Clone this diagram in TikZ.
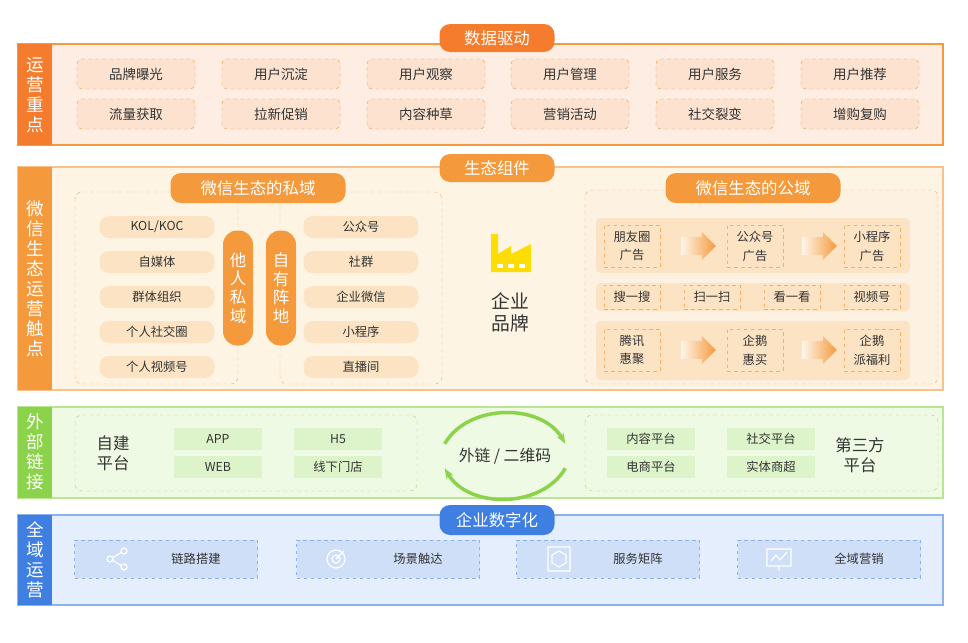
\documentclass[tikz,border=0pt]{standalone}
\usepackage{fontspec}
\setmainfont{Noto Sans CJK SC}
\usetikzlibrary{shapes.arrows, arrows.meta}

\definecolor{orgdark}{HTML}{F47C2C}
\definecolor{orgmid}{HTML}{F59A3C}
\definecolor{orglight}{HTML}{FDEDE2}
\definecolor{orgbox}{HTML}{FCE2CF}
\definecolor{orgpale}{HTML}{FEF4E4}
\definecolor{orgpill}{HTML}{FBE3C3}
\definecolor{grnstrip}{HTML}{8CD34C}
\definecolor{grnlight}{HTML}{EFFAE4}
\definecolor{grnbox}{HTML}{DDF4CB}
\definecolor{bluestrip}{HTML}{3F7FE2}
\definecolor{bluelight}{HTML}{E5EEFC}
\definecolor{bluebox}{HTML}{CFDFF8}
\definecolor{txt}{HTML}{333333}

\tikzset{
  band/.style={line width=1pt},
  strip/.style={text=white, align=center, font=\fontsize{15}{17}\selectfont},
  tag/.style={rounded corners=9pt, text=white, minimum height=28*0.03cm,
    font=\fontsize{14}{16}\selectfont, inner sep=0pt},
  keybox/.style={draw=orgmid, dashed, fill=orgbox, rounded corners=4pt,
    minimum width=118*0.03cm, minimum height=30*0.03cm, text=txt,
    font=\fontsize{11.5}{13}\selectfont},
  pillbox/.style={fill=orgpill, rounded corners=8pt, minimum width=115*0.03cm,
    minimum height=22*0.03cm, text=txt, font=\fontsize{10.5}{12}\selectfont},
  vpill/.style={fill=orgmid, rounded corners=12pt, minimum width=30*0.03cm,
    minimum height=115*0.03cm, text=white, align=center,
    font=\fontsize{14}{16}\selectfont},
  area/.style={draw=orgmid!80, dashed, rounded corners=6pt},
  pubbox/.style={draw=orgmid!80, dashed, minimum width=56*0.03cm, text=txt,
    align=center, font=\fontsize{10.5}{16}\selectfont},
  flow/.style={single arrow, minimum height=35*0.03cm, minimum width=28*0.03cm,
    single arrow head extend=2pt, left color=orgmid!10, right color=orgmid, draw=none},
  gbox/.style={fill=grnbox, minimum width=88*0.03cm, minimum height=22*0.03cm,
    text=txt, font=\fontsize{10.5}{12}\selectfont},
  bbox/.style={draw=bluestrip!60, dashed, fill=bluebox, minimum width=183*0.03cm,
    minimum height=38*0.03cm},
  big/.style={text=txt, align=center, font=\fontsize{14}{17}\selectfont}
}

\begin{document}
\begin{tikzpicture}[x=0.03cm, y=-0.03cm]
\useasboundingbox (0,0) rectangle (968,643);

% band: key points
\draw[band, draw=orgmid, fill=orglight] (18,44) rectangle (943,145);
\fill[orgdark] (18,44) rectangle (52,145);
\node[strip] (s1) at (35,95) {运\\营\\重\\点};
\node[tag, fill=orgdark, minimum width=115*0.03cm] (t1) at (497,38) {数据驱动};
\foreach \x/\a/\b [count=\i] in {136/品牌曝光/流量获取, 281/用户沉淀/拉新促销,
    426/用户观察/内容种草, 570/用户管理/营销活动, 715/用户服务/社交裂变,
    860/用户推荐/增购复购} {
  \node[keybox] (ka\i) at (\x,74) {\a};
  \node[keybox] (kb\i) at (\x,114) {\b};
}

% band: ecosystem
\draw[band, draw=orgmid!60, fill=orgpale] (18,167) rectangle (943,390);
\fill[orgmid] (18,167) rectangle (52,390);
\node[strip] (s2) at (35,279) {微\\信\\生\\态\\运\\营\\触\\点};
\node[tag, fill=orgmid, minimum width=115*0.03cm] (t2) at (497,168) {生态组件};

% private domain
\draw[area] (75,192) rectangle (238,384);
\draw[area] (280,192) rectangle (442,384);
\node[tag, fill=orgmid, minimum width=175*0.03cm, minimum height=30*0.03cm] (priv) at (258,188) {微信生态的私域};
\foreach \a/\b [count=\i] in {{KOL/KOC}/公众号, 自媒体/社群, 群体组织/企业微信,
    个人社交圈/小程序, 个人视频号/直播间} {
  \node[pillbox] (pl\i) at (157,192+35*\i) {\a};
  \node[pillbox] (pr\i) at (361,192+35*\i) {\b};
}
\node[vpill] (other) at (238,288) {他\\人\\私\\域};
\node[vpill] (own) at (281,288) {自\\有\\阵\\地};

% brand
\fill[yellow!80!orange] (491,272) -- (491,234) -- (498,234) -- (498,254) -- (511,246)
  -- (511,254) -- (531,244) -- (531,272) -- cycle;
\foreach \x in {497,508,519} \fill[white] (\x,264) rectangle +(6,4);
\node[big, font=\fontsize{16}{19}\selectfont] (brand) at (510,312) {企业\\品牌};

% public domain
\draw[area, fill=orgpill!50] (585,190) rectangle (938,384);
\node[tag, fill=orgmid, minimum width=175*0.03cm, minimum height=30*0.03cm] (pub) at (753,188) {微信生态的公域};
\fill[orgpill, rounded corners=4pt] (596,218) rectangle (910,273);
\fill[orgpill, rounded corners=4pt] (596,283) rectangle (910,311);
\fill[orgpill, rounded corners=4pt] (596,321) rectangle (910,380);
\node[pubbox, minimum height=42*0.03cm] (ad1) at (632,246) {朋友圈\\广告};
\node[pubbox, minimum height=42*0.03cm] (ad2) at (755,246) {公众号\\广告};
\node[pubbox, minimum height=42*0.03cm] (ad3) at (872,246) {小程序\\广告};
\node[flow] (fa1) at (694,246) {};
\node[flow] (fa2) at (815,246) {};
\foreach \x/\a [count=\i] in {632/搜一搜, 712/扫一扫, 792/看一看, 872/视频号}
  \node[pubbox, minimum height=24*0.03cm] (se\i) at (\x,297) {\a};
\node[pubbox, minimum height=42*0.03cm] (hj1) at (632,350) {腾讯\\惠聚};
\node[pubbox, minimum height=42*0.03cm] (hj2) at (755,350) {企鹅\\惠买};
\node[pubbox, minimum height=42*0.03cm] (hj3) at (872,350) {企鹅\\派福利};
\node[flow] (fb1) at (694,350) {};
\node[flow] (fb2) at (815,350) {};

% band: external links
\draw[band, draw=grnstrip!60, fill=grnlight] (18,407) rectangle (943,498);
\fill[grnstrip] (18,407) rectangle (52,498);
\node[strip] (s3) at (35,452) {外\\部\\链\\接};
\draw[draw=grnstrip!80, dashed, rounded corners=6pt] (75,415) rectangle (417,491);
\draw[draw=grnstrip!80, dashed, rounded corners=6pt] (585,415) rectangle (938,491);
\node[big] (self) at (113,453) {自建\\平台};
\node[gbox] (app) at (218,439) {APP};
\node[gbox] (web) at (218,467) {WEB};
\node[gbox] (hfive) at (338,439) {H5};
\node[gbox] (store) at (338,467) {线下门店};
\node[gbox] (cont) at (651,439) {内容平台};
\node[gbox] (ecom) at (651,467) {电商平台};
\node[gbox] (social) at (771,439) {社交平台};
\node[gbox] (mall) at (771,467) {实体商超};
\node[big] (third) at (860,455) {第三方\\平台};
\node[big, font=\fontsize{13.5}{16}\selectfont] (link) at (505,456) {外链 / 二维码};
\draw[grnstrip, line width=3pt, -{Stealth[length=9pt]}]
  ([xshift=-10*0.03cm]link.north west) to[out=60, in=120] ([xshift=10*0.03cm]link.north east);
\draw[grnstrip, line width=3pt, -{Stealth[length=9pt]}]
  ([xshift=10*0.03cm]link.south east) to[out=-120, in=-60] ([xshift=-10*0.03cm]link.south west);

% band: full-domain operation
\draw[band, draw=bluestrip!60, fill=bluelight] (18,515) rectangle (943,605);
\fill[bluestrip] (18,515) rectangle (52,605);
\node[strip] (s4) at (35,560) {全\\域\\运\\营};
\node[tag, fill=bluestrip, minimum width=115*0.03cm, minimum height=30*0.03cm] (t4) at (497,520) {企业数字化};
\foreach \x/\a [count=\i] in {166/链路搭建, 388/场景触达, 608/服务矩阵, 829/全域营销} {
  \node[bbox] (op\i) at (\x,559) {};
  \node[text=txt, font=\fontsize{10.5}{12}\selectfont] (ot\i) at (\x+30,559) {\a};
}
% icons
\begin{scope}[white, line width=1pt]
  \draw (110,559) circle (3) (124,551) circle (3) (124,567) circle (3)
        (112,558) -- (122,552) (112,560) -- (122,566);
  \draw (336,559) circle (9) (336,559) circle (4) (336,559) -- (344,551);
  \draw (548,547) rectangle (570,571) (559,551) -- (566,555) -- (566,563) -- (559,567)
        -- (552,563) -- (552,555) -- cycle;
  \draw (767,549) rectangle (791,566) (779,566) -- (779,571) (771,561) -- (776,555)
        -- (780,560) -- (787,552);
\end{scope}
\end{tikzpicture}
\end{document}
